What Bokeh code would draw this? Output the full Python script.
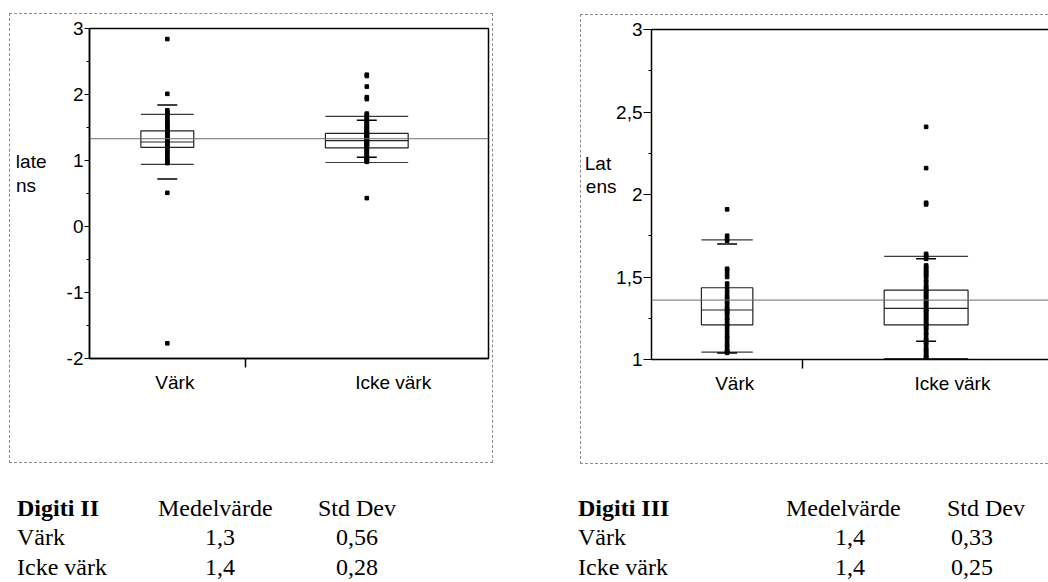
from bokeh.plotting import figure
from bokeh.models import FixedTicker, LinearAxis, Range1d, Div, Span
from bokeh.layouts import row, column
from bokeh.embed import file_html
from bokeh.resources import INLINE

groups = ["Värk", "Icke värk"]

# Digiti II: individual latencies per group
d2_vark = [2.84, 2.01, 1.76, 1.73, 1.71, 1.69, 1.66, 1.63, 1.60, 1.57, 1.55, 1.52, 1.50,
           1.48, 1.46, 1.44, 1.42, 1.40, 1.38, 1.36, 1.34, 1.32, 1.30, 1.29, 1.27, 1.25,
           1.23, 1.21, 1.19, 1.16, 1.13, 1.10, 1.06, 1.03, 1.00, 0.98, 0.96, 0.51, -1.77]
d2_icke = [2.30, 2.28, 2.12, 1.96, 1.93, 1.71, 1.69, 1.67, 1.65, 1.62, 1.60, 1.58, 1.56,
           1.54, 1.52, 1.50, 1.49, 1.47, 1.46, 1.44, 1.43, 1.42, 1.41, 1.40, 1.39, 1.38,
           1.37, 1.36, 1.35, 1.34, 1.33, 1.32, 1.31, 1.30, 1.30, 1.29, 1.28, 1.27, 1.26,
           1.25, 1.24, 1.23, 1.22, 1.21, 1.20, 1.19, 1.17, 1.15, 1.13, 1.11, 1.09, 1.07,
           1.05, 1.04, 1.03, 1.02, 1.01, 1.00, 0.99, 0.98, 0.43]

# Digiti III: individual latencies per group
d3_vark = [1.91, 1.75, 1.73, 1.72, 1.55, 1.54, 1.52, 1.50, 1.46, 1.44, 1.42, 1.40, 1.38,
           1.37, 1.35, 1.34, 1.32, 1.31, 1.30, 1.29, 1.28, 1.27, 1.25, 1.24, 1.22, 1.21,
           1.20, 1.18, 1.16, 1.14, 1.13, 1.11, 1.09, 1.08, 1.06, 1.05, 1.05, 1.04]
d3_icke = [2.41, 2.16, 1.95, 1.94, 1.64, 1.63, 1.62, 1.61, 1.57, 1.56, 1.55, 1.54, 1.53,
           1.52, 1.51, 1.50, 1.48, 1.47, 1.45, 1.44, 1.43, 1.42, 1.41, 1.40, 1.39, 1.38,
           1.37, 1.36, 1.35, 1.34, 1.33, 1.32, 1.31, 1.30, 1.30, 1.29, 1.28, 1.27, 1.26,
           1.25, 1.24, 1.23, 1.22, 1.21, 1.20, 1.19, 1.18, 1.16, 1.15, 1.13, 1.12, 1.11,
           1.10, 1.09, 1.07, 1.06, 1.05, 1.04, 1.03, 1.02, 1.01, 1.01]

# Box statistics (Värk, Icke värk)
d2_q1 = [1.20, 1.19]
d2_median = [1.28, 1.30]
d2_q3 = [1.45, 1.41]
d2_p10 = [0.94, 0.97]
d2_p90 = [1.70, 1.67]
d2_mean = [1.28, 1.33]
d2_sd = [0.56, 0.28]
d2_grand_mean = 1.33

d3_q1 = [1.21, 1.21]
d3_median = [1.30, 1.31]
d3_q3 = [1.435, 1.42]
d3_p10 = [1.045, 1.005]
d3_p90 = [1.725, 1.625]
d3_mean = [1.37, 1.36]
d3_sd = [0.33, 0.25]
d3_grand_mean = 1.36

d2_yticks = [-2, -1, 0, 1, 2, 3]
d2_ylabels = ["-2", "-1", "0", "1", "2", "3"]
d2_yminor = [-1.5, -0.5, 0.5, 1.5, 2.5]
d3_yticks = [1, 1.5, 2, 2.5, 3]
d3_ylabels = ["1", "1,5", "2", "2,5", "3"]
d3_yminor = [1.25, 1.75, 2.25, 2.75]

# y-axis titles, broken over two lines
d2_ytitle = ["late", "ns"]
d3_ytitle = ["Lat", "ens"]

# Summary tables printed under each chart
table_cols = ["Medelvärde", "Std Dev"]
d2_table_title = "Digiti II"
d2_table_mean = ["1,3", "1,4"]
d2_table_sd = ["0,56", "0,28"]
d3_table_title = "Digiti III"
d3_table_mean = ["1,4", "1,4"]
d3_table_sd = ["0,33", "0,25"]

SANS = "Liberation Sans"
SERIF = "Liberation Serif"
NBSP = "\u00a0"
TICK_FONT = "19px"


def oneway_chart(samples, q1, med, q3, p10, p90, mean, sd, grand, yticks, ylabels, yminor,
                 ytitle, title_at, title_pad, title_standoff, width, height, borders, margin,
                 tick_out, label_standoff, frame_outline):
    n = [len(s) for s in samples]
    total = sum(n)
    centers = [n[0] / 2, n[0] + n[1] / 2]
    label_shift = [1.9, 6.6]
    label_pos = [round(c + s, 2) for c, s in zip(centers, label_shift)]
    bl, br, bt, bb = borders

    p = figure(width=width, height=height, output_backend="svg", toolbar_location=None,
               x_range=Range1d(0, total), y_range=Range1d(min(yticks), max(yticks)),
               x_axis_location=None, y_axis_location=None,
               min_border_left=bl, min_border_right=br, min_border_top=bt, min_border_bottom=bb,
               background_fill_color="white", border_fill_color="white")
    p.grid.grid_line_color = None
    p.margin = margin
    if frame_outline:
        p.outline_line_color = "black"
        p.outline_line_width = 1.5
    else:
        p.outline_line_color = None
        top = LinearAxis(ticker=FixedTicker(ticks=[]), axis_line_width=1.5, axis_line_color="black",
                         major_tick_line_color=None, minor_tick_line_color=None,
                         major_label_text_font_size="0px", major_label_standoff=0,
                         major_tick_out=0, minor_tick_out=0)
        p.add_layout(top, "above")

    ya = LinearAxis(ticker=FixedTicker(ticks=yticks, minor_ticks=yminor),
                    major_label_overrides={t: l for t, l in zip(yticks, ylabels)},
                    axis_line_width=1.5, axis_line_color="black",
                    major_tick_out=tick_out, major_tick_in=0, minor_tick_out=3, minor_tick_in=0,
                    major_tick_line_color="black", minor_tick_line_color="black",
                    major_label_standoff=1, major_label_text_font=SANS,
                    major_label_text_font_size=TICK_FONT, major_label_text_color="black")
    p.add_layout(ya, "left")

    # two-line y title set as labels of an outer, line-less axis
    title_lines = [ytitle[0] + NBSP * title_pad[0], ytitle[1] + NBSP * title_pad[1]]
    yt = LinearAxis(ticker=FixedTicker(ticks=title_at),
                    major_label_overrides={t: l for t, l in zip(title_at, title_lines)},
                    axis_line_color=None, major_tick_line_color=None, minor_tick_line_color=None,
                    major_tick_out=0, minor_tick_out=0, major_tick_in=0, minor_tick_in=0,
                    major_label_standoff=title_standoff, major_label_text_font=SANS,
                    major_label_text_font_size="19px", major_label_text_color="black")
    p.add_layout(yt, "left")

    xa = LinearAxis(ticker=FixedTicker(ticks=label_pos, minor_ticks=[n[0]]),
                    major_label_overrides={t: g for t, g in zip(label_pos, groups)},
                    axis_line_width=1.5, axis_line_color="black",
                    major_tick_line_color=None, major_tick_out=0, major_tick_in=0,
                    minor_tick_line_color="black", minor_tick_line_width=1.5,
                    minor_tick_out=9, minor_tick_in=0,
                    major_label_standoff=label_standoff, major_label_text_font=SANS,
                    major_label_text_font_size=TICK_FONT, major_label_text_color="black")
    p.add_layout(xa, "below")

    # overall mean across both groups
    p.add_layout(Span(location=grand, dimension="width", line_color="#6e6e6e", line_width=1))

    bw = [0.34 * k for k in n]
    left = [c - w / 2 for c, w in zip(centers, bw)]
    right = [c + w / 2 for c, w in zip(centers, bw)]
    p.quad(left=left, right=right, bottom=q1, top=q3, fill_color=None,
           line_color="#222222", line_width=1.2)
    p.segment(x0=left, x1=right, y0=med, y1=med, line_color="#222222", line_width=1.2)
    p.segment(x0=left, x1=right, y0=p90, y1=p90, line_color="#3a3a3a", line_width=1.2)
    p.segment(x0=left, x1=right, y0=p10, y1=p10, line_color="#3a3a3a", line_width=1.2)

    cap = 2.5
    hi = [m + s for m, s in zip(mean, sd)]
    lo = [m - s for m, s in zip(mean, sd)]
    p.segment(x0=[c - cap for c in centers], x1=[c + cap for c in centers], y0=hi, y1=hi,
              line_color="black", line_width=1.5)
    p.segment(x0=[c - cap for c in centers], x1=[c + cap for c in centers], y0=lo, y1=lo,
              line_color="black", line_width=1.5)

    for c, s in zip(centers, samples):
        p.scatter(x=[c] * len(s), y=s, marker="square", size=3.6, color="black")
    return p


p1 = oneway_chart([d2_vark, d2_icke], d2_q1, d2_median, d2_q3, d2_p10, d2_p90, d2_mean, d2_sd,
                  d2_grand_mean, d2_yticks, d2_ylabels, d2_yminor,
                  d2_ytitle, [0.98, 0.615], (0, 2), 17,
                  484, 450, (79, 6, 14, 106), (13, 0, 0, 9), 5, 4, True)
p1.styles = {"border": "1px dashed #8c8c8c", "box-sizing": "border-box"}

p2 = oneway_chart([d3_vark, d3_icke], d3_q1, d3_median, d3_q3, d3_p10, d3_p90, d3_mean, d3_sd,
                  d3_grand_mean, d3_yticks, d3_ylabels, d3_yminor,
                  d3_ytitle, [2.186, 2.047], (1, 0), -3,
                  468, 450, (69, 0, 14, 105), (14, 0, 0, 87), 8, 4, False)
p2.styles = {"border-left": "1px dashed #8c8c8c", "border-top": "1px dashed #8c8c8c",
             "border-bottom": "1px dashed #8c8c8c", "box-sizing": "border-box"}


def text_at(x, top, text, align="left", bold=False):
    weight = "bold" if bold else "normal"
    if align == "center":
        pos = f"left:{x - 100}px;width:200px;text-align:center;"
    else:
        pos = f"left:{x}px;"
    return (f'<div style="position:absolute;{pos}top:{top}px;font-family:\'{SERIF}\';'
            f'font-size:24px;line-height:24px;font-weight:{weight};white-space:nowrap;color:#000">'
            f'{text}</div>')


def table_html(x0, title, means, sds, mean_head_x, mean_x, sd_head_x, sd_x):
    rows_top = [32, 61, 91]
    parts = [text_at(x0, rows_top[0], title, bold=True),
             text_at(mean_head_x, rows_top[0], table_cols[0]),
             text_at(sd_head_x, rows_top[0], table_cols[1])]
    for i, g in enumerate(groups):
        parts.append(text_at(x0, rows_top[i + 1], g))
        parts.append(text_at(mean_x, rows_top[i + 1], means[i], align="center"))
        parts.append(text_at(sd_x, rows_top[i + 1], sds[i], align="center"))
    return "".join(parts)


html = ('<div style="position:relative;width:1048px;height:118px;overflow:hidden;background:#fff">'
        + table_html(17, d2_table_title, d2_table_mean, d2_table_sd, 158, 220, 318, 357)
        + table_html(578, d3_table_title, d3_table_mean, d3_table_sd, 786, 850, 947, 972)
        + '</div>')
tables = Div(text=html, width=1048, height=118, margin=0)

layout = column(row(p1, p2), tables)
open("out.html", "w").write(file_html(layout, INLINE))
